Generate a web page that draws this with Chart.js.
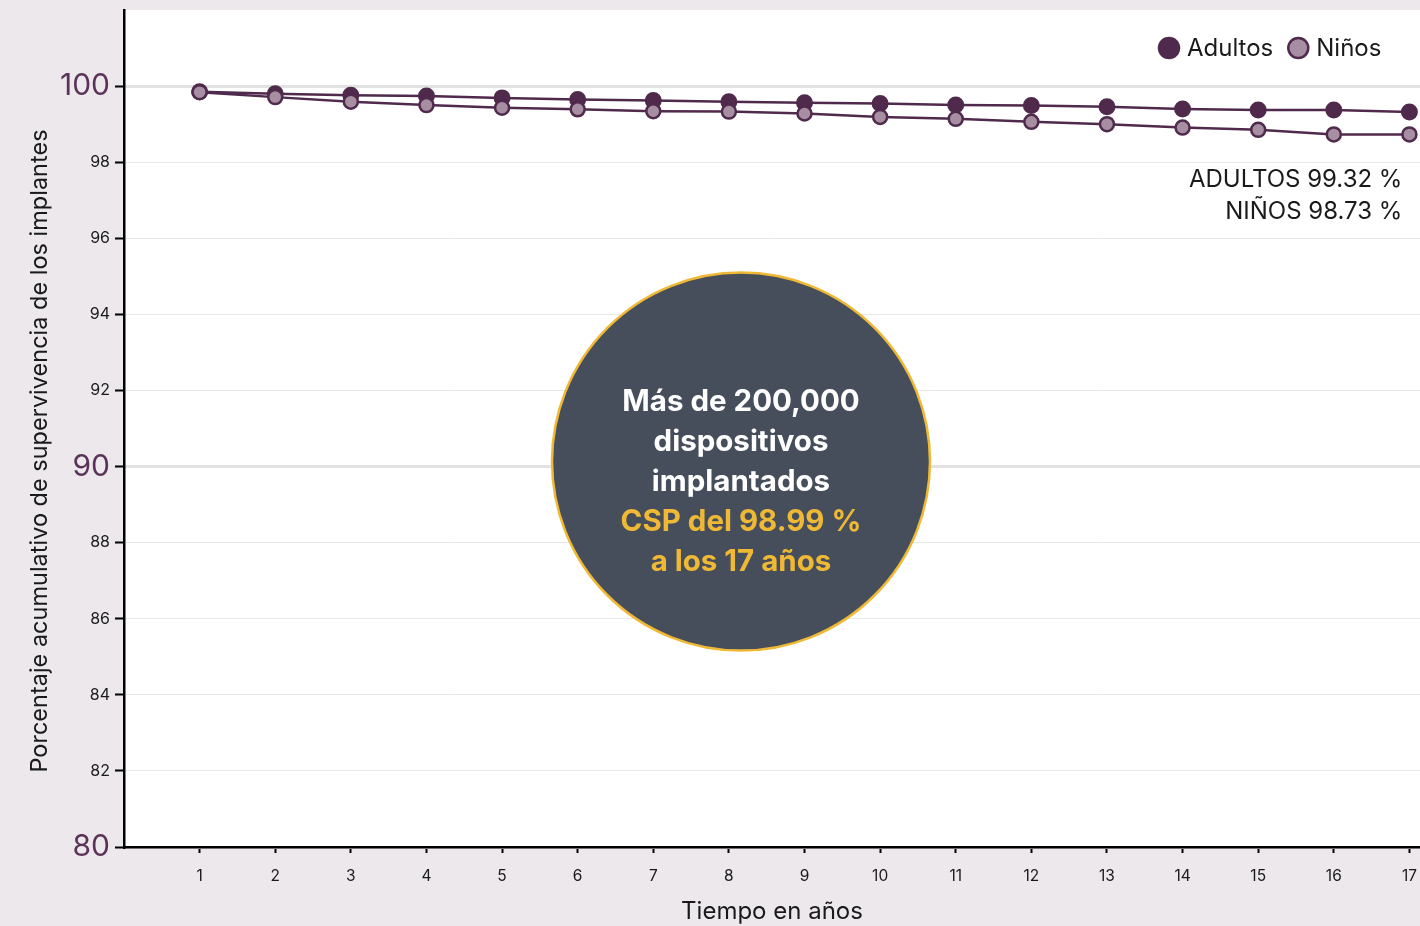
<!DOCTYPE html>
<html lang="es">
<head>
<meta charset="utf-8">
<title>Supervivencia de los implantes</title>
<script src="https://cdn.jsdelivr.net/npm/chart.js@4.4.0/dist/chart.umd.min.js"></script>
<style>
    html, body { margin: 0; padding: 0; background: #ece8ec; }
    canvas { display: block; }
</style>
</head>
<body>
<canvas id="survivalChart" width="1420" height="926"></canvas>
<script>
// ── Datos ──
const years = [1, 2, 3, 4, 5, 6, 7, 8, 9, 10, 11, 12, 13, 14, 15, 16, 17];
const adultos = [99.85, 99.80, 99.76, 99.74, 99.69, 99.65, 99.62, 99.59, 99.56, 99.54, 99.50, 99.49, 99.46, 99.40, 99.37, 99.37, 99.32];
const ninos = [99.84, 99.71, 99.59, 99.50, 99.43, 99.39, 99.34, 99.33, 99.28, 99.19, 99.14, 99.06, 99.00, 98.91, 98.85, 98.73, 98.73];
const yTicks = [80, 82, 84, 86, 88, 90, 92, 94, 96, 98, 100];
const seriesLabels = ['Adultos', 'Niños'];
const finalLabels = ['ADULTOS 99.32 %', 'NIÑOS 98.73 %'];
const bubbleWhite = ['Más de 200,000', 'dispositivos', 'implantados'];
const bubbleGold = ['CSP del 98.99 %', 'a los 17 años'];

// ── Estilos ──
const FONT = "Inter, 'Noto Sans', sans-serif";
const PLUM = '#4f2a4c';
const MAUVE = '#a88ea2';
const GOLD = '#efb936';
const INK = '#1a1a1a';

// Fondo gris + área del gráfico blanca
const backgroundPlugin = {
    id: 'background',
    beforeDraw(chart) {
        const { ctx, chartArea: a } = chart;
        ctx.save();
        ctx.fillStyle = '#ece8ec';
        ctx.fillRect(0, 0, chart.width, chart.height);
        ctx.fillStyle = '#ffffff';
        ctx.fillRect(a.left, a.top, a.right - a.left, a.bottom - a.top);
        ctx.restore();
    }
};

// Círculo, leyenda, etiquetas finales y título del eje Y
const overlayPlugin = {
    id: 'overlay',
    afterDraw(chart) {
        const { ctx, scales: { x, y } } = chart;
        ctx.save();

        // círculo central
        const cx = x.getPixelForValue(8.16);
        const cy = y.getPixelForValue(90.13);
        ctx.beginPath();
        ctx.arc(cx, cy, 189, 0, Math.PI * 2);
        ctx.fillStyle = '#474e5b';
        ctx.fill();
        ctx.lineWidth = 2.5;
        ctx.strokeStyle = GOLD;
        ctx.stroke();

        ctx.font = `bold 29.5px ${FONT}`;
        ctx.textAlign = 'center';
        ctx.textBaseline = 'middle';
        const lines = bubbleWhite.concat(bubbleGold);
        lines.forEach((t, i) => {
            ctx.fillStyle = i < bubbleWhite.length ? '#ffffff' : GOLD;
            ctx.fillText(t, cx, cy - 59 + i * 40);
        });

        // etiquetas finales
        ctx.font = `24px ${FONT}`;
        ctx.textAlign = 'right';
        ctx.fillStyle = INK;
        const lx = x.getPixelForValue(17) - 7;
        ctx.fillText(finalLabels[0], lx, y.getPixelForValue(97.54));
        ctx.fillText(finalLabels[1], lx, y.getPixelForValue(96.70));

        // leyenda
        ctx.textAlign = 'left';
        let px = 1158;
        const py = 48;
        chart.data.datasets.slice().sort((a, b) => seriesLabels.indexOf(a.label) - seriesLabels.indexOf(b.label)).forEach(ds => {
            ctx.beginPath();
            ctx.arc(px + 11, py, 10, 0, Math.PI * 2);
            ctx.fillStyle = ds.pointBackgroundColor;
            ctx.fill();
            ctx.lineWidth = 2.5;
            ctx.strokeStyle = PLUM;
            ctx.stroke();
            ctx.fillStyle = INK;
            ctx.fillText(ds.label, px + 29, py + 1);
            px += 29 + ctx.measureText(ds.label).width + 14;
        });

        // título eje Y
        ctx.translate(40, 451);
        ctx.rotate(-Math.PI / 2);
        ctx.textAlign = 'center';
        ctx.font = `23.5px ${FONT}`;
        ctx.fillStyle = INK;
        ctx.fillText('Porcentaje acumulativo de supervivencia de los implantes', 0, 0);
        ctx.restore();
    }
};

const isMajor = v => v % 10 === 0;

new Chart(document.getElementById('survivalChart'), {
    type: 'line',
    data: {
        datasets: [
            {
                label: seriesLabels[0],
                data: years.map((yr, i) => ({ x: yr, y: adultos[i] })),
                borderColor: PLUM,
                borderWidth: 2.5,
                pointBackgroundColor: PLUM,
                pointBorderColor: PLUM,
                pointBorderWidth: 2,
                pointRadius: 7.5,
                order: 1
            },
            {
                label: seriesLabels[1],
                data: years.map((yr, i) => ({ x: yr, y: ninos[i] })),
                borderColor: PLUM,
                borderWidth: 2.5,
                pointBackgroundColor: MAUVE,
                pointBorderColor: PLUM,
                pointBorderWidth: 2.5,
                pointRadius: 7,
                order: 0
            }
        ]
    },
    options: {
        responsive: false,
        animation: false,
        layout: { autoPadding: false, padding: { top: 10, left: 0, right: 0, bottom: 0 } },
        plugins: { legend: { display: false }, tooltip: { enabled: false } },
        scales: {
            x: {
                type: 'linear',
                min: 0,
                max: 17.14,
                afterBuildTicks: s => { s.ticks = years.map(v => ({ value: v })); },
                afterFit: s => { s.height = 79; s.paddingLeft = 0; s.paddingRight = 0; },
                border: { display: true, color: '#000', width: 2.5 },
                grid: { drawOnChartArea: false, tickLength: 6, tickColor: '#000', tickWidth: 2 },
                ticks: { autoSkip: false, maxRotation: 0, padding: 14, color: INK, font: { family: FONT, size: 15.5 } },
                title: { display: true, text: 'Tiempo en años', color: INK, font: { family: FONT, size: 24 }, padding: { top: 0, bottom: 0 } }
            },
            y: {
                min: 80,
                max: 102,
                afterBuildTicks: s => { s.ticks = yTicks.map(v => ({ value: v })); },
                afterFit: s => { s.width = 124; s.paddingTop = 0; s.paddingBottom = 0; },
                border: { display: true, color: '#000', width: 2.5 },
                grid: {
                    color: c => (c.tick && isMajor(c.tick.value)) ? '#e2e2e2' : '#e8e8e8',
                    lineWidth: c => (c.tick && isMajor(c.tick.value)) ? 3 : 1,
                    tickLength: 9,
                    tickColor: '#000',
                    tickWidth: 2
                },
                ticks: {
                    padding: 5,
                    color: c => (c.tick && isMajor(c.tick.value)) ? '#5b3358' : INK,
                    font: c => ({ family: FONT, size: (c.tick && isMajor(c.tick.value)) ? 30 : 16 })
                }
            }
        }
    },
    plugins: [backgroundPlugin, overlayPlugin]
});
</script>
</body>
</html>
